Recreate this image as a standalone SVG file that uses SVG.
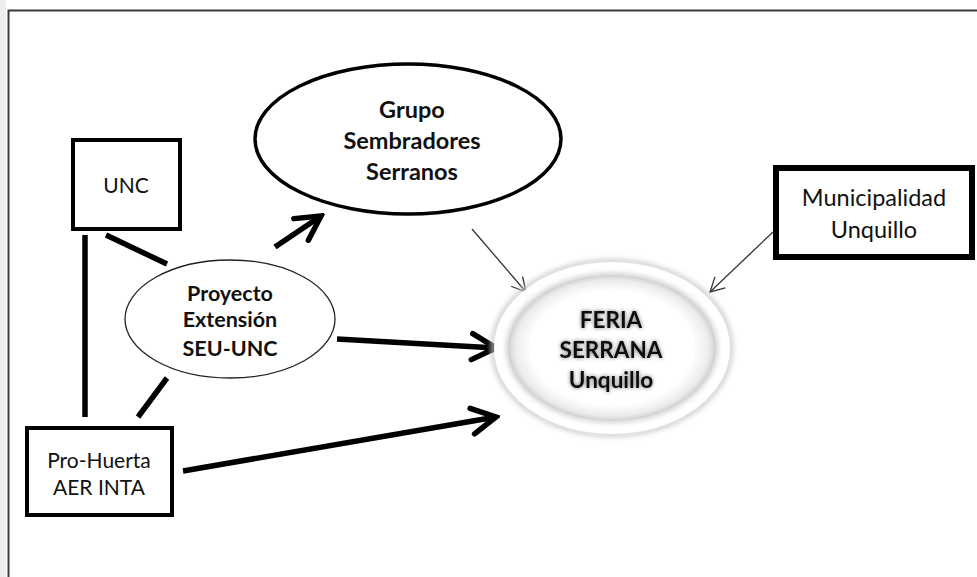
<svg xmlns="http://www.w3.org/2000/svg" width="977" height="577" viewBox="0 0 977 577">
<style>
.t{font-family:Lato,"Open Sans","Liberation Sans",sans-serif;fill:#111;text-anchor:middle}
.r{font-size:21px}
.b{font-weight:bold}
.box{fill:#fff;stroke:#000}
.thick{stroke:#000;stroke-width:5.5;fill:none}
.thin{stroke:#333;stroke-width:1.3;fill:none}
</style>
<defs>
<marker id="ah" markerUnits="userSpaceOnUse" viewBox="-30 -18 34 36" refX="0" refY="0" markerWidth="34" markerHeight="36" orient="auto">
<path d="M-24,-13 L0,0 L-24,13" fill="none" stroke="#000" stroke-width="5.5" stroke-linecap="round" stroke-linejoin="miter"/>
</marker>
<marker id="ahs" markerUnits="userSpaceOnUse" viewBox="-18 -10 20 20" refX="0" refY="0" markerWidth="20" markerHeight="20" orient="auto">
<path d="M-14,-7.5 L0,0 L-14,7.5" fill="none" stroke="#333" stroke-width="1.3"/>
</marker>
<radialGradient id="inner" cx="0.5" cy="0.5" r="0.5">
<stop offset="0.78" stop-color="#fff"/>
<stop offset="0.93" stop-color="#ececec"/>
<stop offset="1" stop-color="#cfcfcf"/>
</radialGradient>
<filter id="blur" x="-20%" y="-20%" width="140%" height="140%"><feGaussianBlur stdDeviation="2.5"/></filter>
<filter id="glow" x="-20%" y="-30%" width="140%" height="160%">
<feGaussianBlur in="SourceAlpha" stdDeviation="2.2"/>
<feComponentTransfer><feFuncA type="linear" slope="0.55"/></feComponentTransfer>
<feMerge><feMergeNode/><feMergeNode in="SourceGraphic"/></feMerge>
</filter>
</defs>
<rect x="0" y="0" width="977" height="577" fill="#fff"/>
<rect x="0" y="0" width="6" height="577" fill="#ededed"/>
<path d="M8.5,577 V10.5 H977" fill="none" stroke="#3a3a3a" stroke-width="2"/>

<g id="connectors">
<line class="thick" x1="85" y1="235" x2="85" y2="417"/>
<line class="thick" x1="106" y1="235" x2="167" y2="264"/>
<line class="thick" x1="167" y1="378" x2="138" y2="417"/>
<line class="thick" x1="275" y1="247" x2="321" y2="216" marker-end="url(#ah)"/>
<line class="thick" x1="337" y1="339" x2="496" y2="348" marker-end="url(#ah)"/>
<line class="thick" x1="183" y1="471" x2="496" y2="417" marker-end="url(#ah)"/>
<line class="thin" x1="472" y1="229" x2="526" y2="292" marker-end="url(#ahs)"/>
<line class="thin" x1="773" y1="232" x2="710" y2="292" marker-end="url(#ahs)"/>
</g>

<g id="unc">
<rect class="box" x="73" y="140" width="107" height="89" stroke-width="4"/>
<text class="t r" x="126" y="193">UNC</text>
</g>

<g id="prohuerta">
<rect class="box" x="27" y="428" width="145" height="87" stroke-width="4"/>
<text class="t r" x="99" y="468">Pro-Huerta</text>
<text class="t r" x="99" y="495">AER INTA</text>
</g>

<g id="proyecto" font-size="21.5">
<ellipse cx="230" cy="319" rx="105" ry="59" fill="#fff" stroke="#222" stroke-width="1.3"/>
<text class="t b" x="230" y="301">Proyecto</text>
<text class="t b" x="230" y="327">Extensión</text>
<text class="t b" x="230" y="356">SEU-UNC</text>
</g>

<g id="grupo" font-size="23.5">
<ellipse cx="408" cy="139" rx="153" ry="75" fill="#fff" stroke="#000" stroke-width="3.5"/>
<text class="t b" x="412" y="118">Grupo</text>
<text class="t b" x="412" y="149">Sembradores</text>
<text class="t b" x="412" y="180">Serranos</text>
</g>

<g id="municipalidad">
<rect class="box" x="776" y="168" width="196" height="89" stroke-width="6"/>
<text class="t" font-size="23.5" x="874" y="206">Municipalidad</text>
<text class="t" font-size="23.5" x="874" y="238">Unquillo</text>
</g>

<g id="feria">
<ellipse cx="612" cy="348" rx="119" ry="87" fill="none" stroke="#c8c8c8" stroke-width="4" filter="url(#blur)"/>
<ellipse cx="612" cy="348" rx="118" ry="86" fill="#fff"/>
<ellipse cx="612" cy="348" rx="104" ry="73" fill="none" stroke="#bbb" stroke-width="3" filter="url(#blur)"/>
<ellipse cx="612" cy="348" rx="104" ry="73" fill="url(#inner)"/>
<g filter="url(#glow)" font-size="22.5">
<text class="t b" x="611" y="328">FERIA</text>
<text class="t b" x="611" y="358">SERRANA</text>
<text class="t b" x="611" y="388">Unquillo</text>
</g>
</g>
</svg>
